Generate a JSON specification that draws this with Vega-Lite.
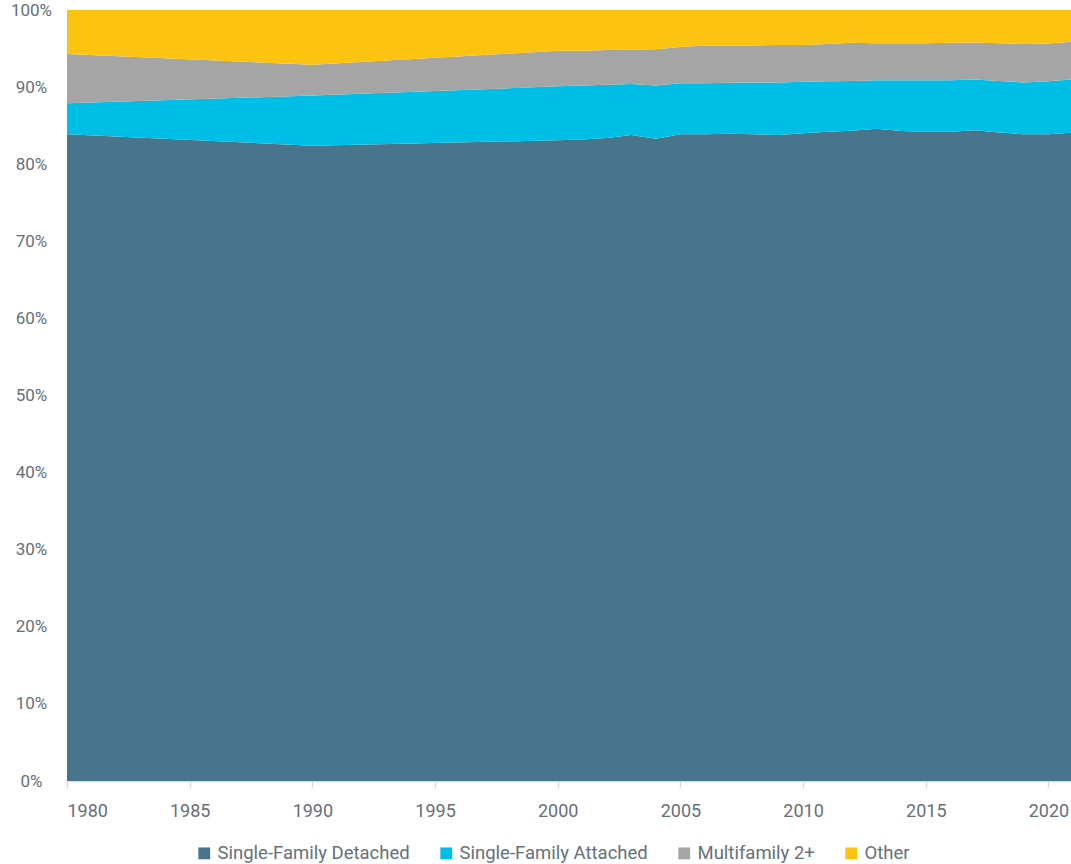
{
  "$schema": "https://vega.github.io/schema/vega-lite/v6.json",
  "width": 1006,
  "height": 771,
  "autosize": "none",
  "padding": {"left": 67, "top": 10, "right": 0, "bottom": 83},
  "background": "white",
  "config": {
    "view": {"stroke": null},
    "font": "Roboto",
    "axis": {"labelFont": "Roboto", "labelColor": "#66707a"},
    "legend": {"labelFont": "Roboto", "labelColor": "#66707a"}
  },
  "data": {
    "values": [
      {"year": 1980, "type": "Single-Family Detached", "share": 83.9, "ord": 1},
      {"year": 1980, "type": "Single-Family Attached", "share": 4.0, "ord": 2},
      {"year": 1980, "type": "Multifamily 2+", "share": 6.4, "ord": 3},
      {"year": 1980, "type": "Other", "share": 5.7, "ord": 4},
      {"year": 1990, "type": "Single-Family Detached", "share": 82.4, "ord": 1},
      {"year": 1990, "type": "Single-Family Attached", "share": 6.5, "ord": 2},
      {"year": 1990, "type": "Multifamily 2+", "share": 4.0, "ord": 3},
      {"year": 1990, "type": "Other", "share": 7.1, "ord": 4},
      {"year": 2000, "type": "Single-Family Detached", "share": 83.1, "ord": 1},
      {"year": 2000, "type": "Single-Family Attached", "share": 7.0, "ord": 2},
      {"year": 2000, "type": "Multifamily 2+", "share": 4.6, "ord": 3},
      {"year": 2000, "type": "Other", "share": 5.3, "ord": 4},
      {"year": 2001, "type": "Single-Family Detached", "share": 83.2, "ord": 1},
      {"year": 2001, "type": "Single-Family Attached", "share": 7.0, "ord": 2},
      {"year": 2001, "type": "Multifamily 2+", "share": 4.5, "ord": 3},
      {"year": 2001, "type": "Other", "share": 5.3, "ord": 4},
      {"year": 2002, "type": "Single-Family Detached", "share": 83.4, "ord": 1},
      {"year": 2002, "type": "Single-Family Attached", "share": 6.9, "ord": 2},
      {"year": 2002, "type": "Multifamily 2+", "share": 4.5, "ord": 3},
      {"year": 2002, "type": "Other", "share": 5.2, "ord": 4},
      {"year": 2003, "type": "Single-Family Detached", "share": 83.8, "ord": 1},
      {"year": 2003, "type": "Single-Family Attached", "share": 6.6, "ord": 2},
      {"year": 2003, "type": "Multifamily 2+", "share": 4.45, "ord": 3},
      {"year": 2003, "type": "Other", "share": 5.15, "ord": 4},
      {"year": 2004, "type": "Single-Family Detached", "share": 83.3, "ord": 1},
      {"year": 2004, "type": "Single-Family Attached", "share": 6.9, "ord": 2},
      {"year": 2004, "type": "Multifamily 2+", "share": 4.7, "ord": 3},
      {"year": 2004, "type": "Other", "share": 5.1, "ord": 4},
      {"year": 2005, "type": "Single-Family Detached", "share": 83.9, "ord": 1},
      {"year": 2005, "type": "Single-Family Attached", "share": 6.6, "ord": 2},
      {"year": 2005, "type": "Multifamily 2+", "share": 4.7, "ord": 3},
      {"year": 2005, "type": "Other", "share": 4.8, "ord": 4},
      {"year": 2006, "type": "Single-Family Detached", "share": 83.9, "ord": 1},
      {"year": 2006, "type": "Single-Family Attached", "share": 6.6, "ord": 2},
      {"year": 2006, "type": "Multifamily 2+", "share": 4.9, "ord": 3},
      {"year": 2006, "type": "Other", "share": 4.6, "ord": 4},
      {"year": 2007, "type": "Single-Family Detached", "share": 83.95, "ord": 1},
      {"year": 2007, "type": "Single-Family Attached", "share": 6.6, "ord": 2},
      {"year": 2007, "type": "Multifamily 2+", "share": 4.85, "ord": 3},
      {"year": 2007, "type": "Other", "share": 4.6, "ord": 4},
      {"year": 2008, "type": "Single-Family Detached", "share": 83.9, "ord": 1},
      {"year": 2008, "type": "Single-Family Attached", "share": 6.7, "ord": 2},
      {"year": 2008, "type": "Multifamily 2+", "share": 4.8, "ord": 3},
      {"year": 2008, "type": "Other", "share": 4.6, "ord": 4},
      {"year": 2009, "type": "Single-Family Detached", "share": 83.8, "ord": 1},
      {"year": 2009, "type": "Single-Family Attached", "share": 6.8, "ord": 2},
      {"year": 2009, "type": "Multifamily 2+", "share": 4.85, "ord": 3},
      {"year": 2009, "type": "Other", "share": 4.55, "ord": 4},
      {"year": 2010, "type": "Single-Family Detached", "share": 84.0, "ord": 1},
      {"year": 2010, "type": "Single-Family Attached", "share": 6.7, "ord": 2},
      {"year": 2010, "type": "Multifamily 2+", "share": 4.75, "ord": 3},
      {"year": 2010, "type": "Other", "share": 4.55, "ord": 4},
      {"year": 2011, "type": "Single-Family Detached", "share": 84.2, "ord": 1},
      {"year": 2011, "type": "Single-Family Attached", "share": 6.55, "ord": 2},
      {"year": 2011, "type": "Multifamily 2+", "share": 4.85, "ord": 3},
      {"year": 2011, "type": "Other", "share": 4.4, "ord": 4},
      {"year": 2012, "type": "Single-Family Detached", "share": 84.35, "ord": 1},
      {"year": 2012, "type": "Single-Family Attached", "share": 6.45, "ord": 2},
      {"year": 2012, "type": "Multifamily 2+", "share": 4.95, "ord": 3},
      {"year": 2012, "type": "Other", "share": 4.25, "ord": 4},
      {"year": 2013, "type": "Single-Family Detached", "share": 84.6, "ord": 1},
      {"year": 2013, "type": "Single-Family Attached", "share": 6.3, "ord": 2},
      {"year": 2013, "type": "Multifamily 2+", "share": 4.8, "ord": 3},
      {"year": 2013, "type": "Other", "share": 4.3, "ord": 4},
      {"year": 2014, "type": "Single-Family Detached", "share": 84.3, "ord": 1},
      {"year": 2014, "type": "Single-Family Attached", "share": 6.6, "ord": 2},
      {"year": 2014, "type": "Multifamily 2+", "share": 4.8, "ord": 3},
      {"year": 2014, "type": "Other", "share": 4.3, "ord": 4},
      {"year": 2015, "type": "Single-Family Detached", "share": 84.2, "ord": 1},
      {"year": 2015, "type": "Single-Family Attached", "share": 6.7, "ord": 2},
      {"year": 2015, "type": "Multifamily 2+", "share": 4.8, "ord": 3},
      {"year": 2015, "type": "Other", "share": 4.3, "ord": 4},
      {"year": 2016, "type": "Single-Family Detached", "share": 84.2, "ord": 1},
      {"year": 2016, "type": "Single-Family Attached", "share": 6.7, "ord": 2},
      {"year": 2016, "type": "Multifamily 2+", "share": 4.85, "ord": 3},
      {"year": 2016, "type": "Other", "share": 4.25, "ord": 4},
      {"year": 2017, "type": "Single-Family Detached", "share": 84.4, "ord": 1},
      {"year": 2017, "type": "Single-Family Attached", "share": 6.6, "ord": 2},
      {"year": 2017, "type": "Multifamily 2+", "share": 4.8, "ord": 3},
      {"year": 2017, "type": "Other", "share": 4.2, "ord": 4},
      {"year": 2018, "type": "Single-Family Detached", "share": 84.1, "ord": 1},
      {"year": 2018, "type": "Single-Family Attached", "share": 6.7, "ord": 2},
      {"year": 2018, "type": "Multifamily 2+", "share": 4.9, "ord": 3},
      {"year": 2018, "type": "Other", "share": 4.3, "ord": 4},
      {"year": 2019, "type": "Single-Family Detached", "share": 83.9, "ord": 1},
      {"year": 2019, "type": "Single-Family Attached", "share": 6.7, "ord": 2},
      {"year": 2019, "type": "Multifamily 2+", "share": 5.0, "ord": 3},
      {"year": 2019, "type": "Other", "share": 4.4, "ord": 4},
      {"year": 2020, "type": "Single-Family Detached", "share": 83.9, "ord": 1},
      {"year": 2020, "type": "Single-Family Attached", "share": 6.85, "ord": 2},
      {"year": 2020, "type": "Multifamily 2+", "share": 4.9, "ord": 3},
      {"year": 2020, "type": "Other", "share": 4.35, "ord": 4},
      {"year": 2021, "type": "Single-Family Detached", "share": 84.1, "ord": 1},
      {"year": 2021, "type": "Single-Family Attached", "share": 6.9, "ord": 2},
      {"year": 2021, "type": "Multifamily 2+", "share": 4.9, "ord": 3},
      {"year": 2021, "type": "Other", "share": 4.1, "ord": 4}
    ]
  },
  "mark": {"type": "area", "interpolate": "linear"},
  "encoding": {
    "x": {
      "field": "year",
      "type": "quantitative",
      "scale": {"domain": [1980, 2021], "nice": false, "zero": false},
      "axis": {
        "title": null,
        "values": [1980, 1985, 1990, 1995, 2000, 2005, 2010, 2015, 2020],
        "format": "d",
        "grid": false,
        "domainColor": "#dcdcdc",
        "domainWidth": 1.5,
        "tickColor": "#dcdcdc",
        "tickSize": 7,
        "tickWidth": 1.5,
        "labelFontSize": 18,
        "labelPadding": 14
      }
    },
    "y": {
      "field": "share",
      "type": "quantitative",
      "stack": "normalize",
      "scale": {"domain": [0, 1], "nice": false},
      "axis": {
        "title": null,
        "format": ".0%",
        "values": [0, 0.1, 0.2, 0.3, 0.4, 0.5, 0.6, 0.7, 0.8, 0.9, 1.0],
        "domain": false,
        "ticks": false,
        "tickSize": 0,
        "grid": true,
        "gridColor": "#e0e0e0",
        "gridWidth": 1.5,
        "labelAlign": "center",
        "labelFontSize": 17,
        "labelPadding": 36
      }
    },
    "color": {
      "field": "type",
      "type": "nominal",
      "scale": {
        "domain": ["Single-Family Detached", "Single-Family Attached", "Multifamily 2+", "Other"],
        "range": ["#48758c", "#00bfe7", "#a5a5a5", "#fdc311"]
      },
      "legend": {
        "title": null,
        "orient": "none",
        "legendX": 128,
        "legendY": 834,
        "direction": "horizontal",
        "symbolType": "square",
        "symbolSize": 140,
        "symbolStrokeWidth": 0,
        "labelFontSize": 18.5,
        "labelLimit": 400,
        "labelOffset": 4,
        "columnPadding": 27
      }
    },
    "order": {"field": "ord", "sort": "ascending"}
  }
}
